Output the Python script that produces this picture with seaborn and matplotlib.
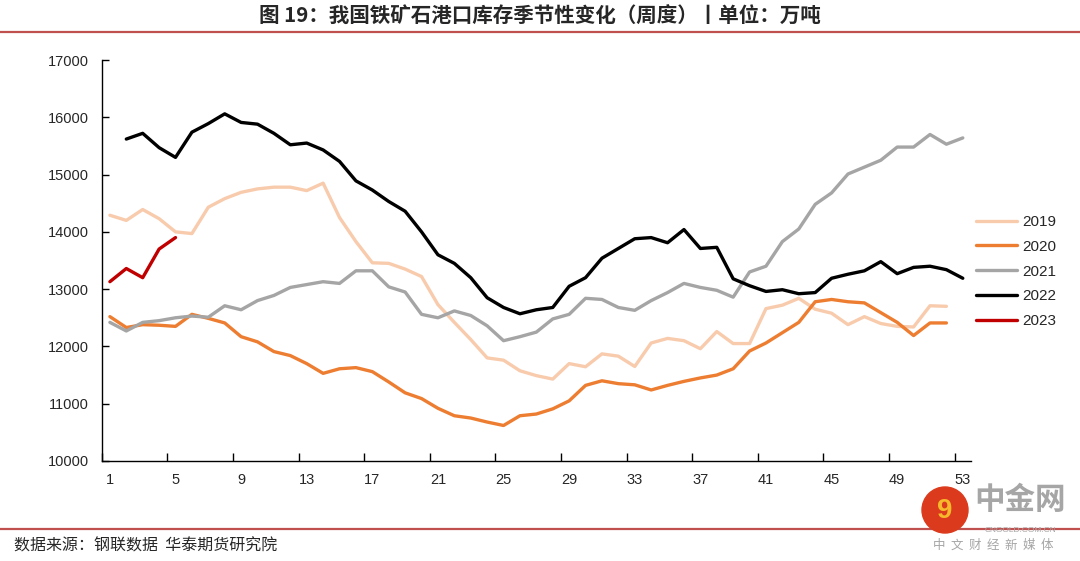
import numpy as np
import pandas as pd
import matplotlib
matplotlib.use("Agg")
import matplotlib.pyplot as plt
from matplotlib.lines import Line2D
from matplotlib.patches import Ellipse
import seaborn as sns

# ---------------- data ----------------
weeks = list(range(1, 54))
nan = np.nan
y2019 = [14290, 14200, 14390, 14230, 14000, 13970, 14430, 14580, 14690, 14750,
         14780, 14780, 14720, 14850, 14250, 13830, 13460, 13450, 13350, 13220,
         12730, 12420, 12120, 11800, 11760, 11575, 11490, 11430, 11700, 11645,
         11870, 11830, 11650, 12060, 12140, 12100, 11960, 12260, 12050, 12050,
         12660, 12720, 12840, 12650, 12580, 12380, 12520, 12400, 12350, 12340,
         12710, 12700, nan]
y2020 = [12520, 12330, 12380, 12370, 12350, 12560, 12490, 12410, 12170, 12080,
         11910, 11840, 11700, 11530, 11610, 11630, 11560, 11380, 11190, 11090,
         10920, 10790, 10750, 10680, 10620, 10790, 10820, 10910, 11050, 11320,
         11400, 11350, 11330, 11240, 11320, 11390, 11450, 11500, 11610, 11920,
         12060, 12240, 12420, 12780, 12820, 12780, 12760, 12590, 12420, 12190,
         12410, 12410, nan]
y2021 = [12420, 12270, 12420, 12450, 12500, 12530, 12510, 12710, 12640, 12800,
         12890, 13030, 13080, 13130, 13100, 13320, 13320, 13040, 12950, 12560,
         12500, 12620, 12540, 12360, 12100, 12170, 12250, 12480, 12560, 12840,
         12820, 12680, 12630, 12800, 12940, 13100, 13030, 12980, 12860, 13300,
         13400, 13830, 14050, 14480, 14680, 15010, 15130, 15250, 15480, 15480,
         15700, 15530, 15640]
y2022 = [nan, 15620, 15720, 15470, 15300, 15740, 15890, 16060, 15910, 15880,
         15720, 15520, 15550, 15430, 15230, 14890, 14730, 14530, 14360, 14000,
         13600, 13450, 13200, 12850, 12680, 12570, 12640, 12680, 13050, 13200,
         13540, 13710, 13880, 13900, 13810, 14040, 13710, 13730, 13180, 13060,
         12960, 12990, 12920, 12940, 13190, 13260, 13320, 13480, 13270, 13380,
         13400, 13340, 13190]
y2023 = [13130, 13360, 13200, 13700, 13900] + [nan] * 48

series_names = ["2019", "2020", "2021", "2022", "2023"]
series_values = [y2019, y2020, y2021, y2022, y2023]
colors = ["#F8CBAD", "#ED7D31", "#A5A5A5", "#000000", "#C00000"]
xtick_labels = [1, 5, 9, 13, 17, 21, 25, 29, 33, 37, 41, 45, 49, 53]
ytick_values = [10000, 11000, 12000, 13000, 14000, 15000, 16000, 17000]

title = "图 19：我国铁矿石港口库存季节性变化（周度）丨单位：万吨"
source = "数据来源：钢联数据  华泰期货研究院"

# ---------------- build long table ----------------
frames = []
for name, vals in zip(series_names, series_values):
    frames.append(pd.DataFrame({"week": weeks, "value": vals, "year": name}))
df = pd.concat(frames, ignore_index=True)

# ---------------- plot ----------------
sns.set_theme(style="white")
plt.rcParams["font.family"] = ["Liberation Sans", "Noto Sans CJK SC", "DejaVu Sans"]

W, H = 1080, 561
fig = plt.figure(figsize=(W / 100, H / 100), dpi=100)
fig.patch.set_facecolor("white")

ax_left, ax_right = 101.7, 971.0
ax_top, ax_bottom = 60.0, 461.0
ax = fig.add_axes([ax_left / W, 1 - ax_bottom / H,
                   (ax_right - ax_left) / W, (ax_bottom - ax_top) / H])

sns.lineplot(data=df, x="week", y="value", hue="year", hue_order=series_names,
             palette=dict(zip(series_names, colors)), linewidth=2.4, ax=ax,
             legend=False, estimator=None, sort=False)
for line in ax.get_lines():
    line.set_solid_joinstyle("round")
    line.set_solid_capstyle("round")

ax.set_xlim(0.5, 53.5)
ax.set_ylim(10000, 17000)
ax.set_xlabel("")
ax.set_ylabel("")

for s in ["top", "right"]:
    ax.spines[s].set_visible(False)
for s in ["left", "bottom"]:
    ax.spines[s].set_color("black")
    ax.spines[s].set_linewidth(1.0)

ax.set_yticks(ytick_values)
ax.set_yticklabels([str(v) for v in ytick_values])
ax.tick_params(axis="y", direction="in", length=5, width=1, color="black",
               labelsize=10.5, pad=9, left=True)

ax.set_xticks(xtick_labels)
ax.set_xticklabels([str(v) for v in xtick_labels])
ax.tick_params(axis="x", which="major", length=0, labelsize=10.5, pad=9)
ax.set_xticks([v - 0.5 for v in xtick_labels], minor=True)
ax.tick_params(axis="x", which="minor", direction="in", length=6, width=1,
               color="black", bottom=True)
ax.grid(False)

# legend
handles = [Line2D([0], [0], color=c, lw=2.4) for c in colors]
leg = fig.legend(handles, series_names, loc="center left",
                 bbox_to_anchor=(962 / W, 1 - 271.5 / H), frameon=False,
                 fontsize=11, handlelength=2.7, handletextpad=0.35,
                 labelspacing=0.7)

# title and decorative rules
fig.text(540 / W, 1 - 16.5 / H, title, ha="center", va="center",
         fontsize=14.8, fontweight="bold",
         family=["Noto Sans CJK SC", "DejaVu Sans"])
fig.add_artist(Line2D([0, 1], [1 - 31.5 / H, 1 - 31.5 / H],
                      transform=fig.transFigure, color="#C0504D", lw=1.6))
fig.add_artist(Line2D([0, 1], [1 - 529 / H, 1 - 529 / H],
                      transform=fig.transFigure, color="#C0504D", lw=1.6))
fig.text(14 / W, 1 - 546 / H, source, ha="left", va="center", fontsize=11.5,
         family=["Noto Sans CJK SC", "DejaVu Sans"])

# watermark
fig.add_artist(Ellipse((945 / W, 1 - 510 / H), 46 / W, 46 / H,
                       transform=fig.transFigure, color="#DC3A1C", zorder=5))
fig.text(945 / W, 1 - 511 / H, "9", ha="center", va="center", fontsize=20,
         fontweight="bold", color="#F6B92B", zorder=6)
fig.text(1020 / W, 1 - 500 / H, "中金网", ha="center", va="center",
         fontsize=22, fontweight="bold", color="#A6A6A6",
         family=["Noto Sans CJK SC"])
fig.text(1020 / W, 1 - 530 / H, "CNGOLD.COM.CN", ha="center", va="center",
         fontsize=6, color="#A6A6A6")
fig.text(993 / W, 1 - 545 / H, "中  文  财  经  新  媒  体", ha="center",
         va="center", fontsize=9, color="#A6A6A6", family=["Noto Sans CJK SC"])

fig.savefig("out.png", dpi=100, facecolor="white")
